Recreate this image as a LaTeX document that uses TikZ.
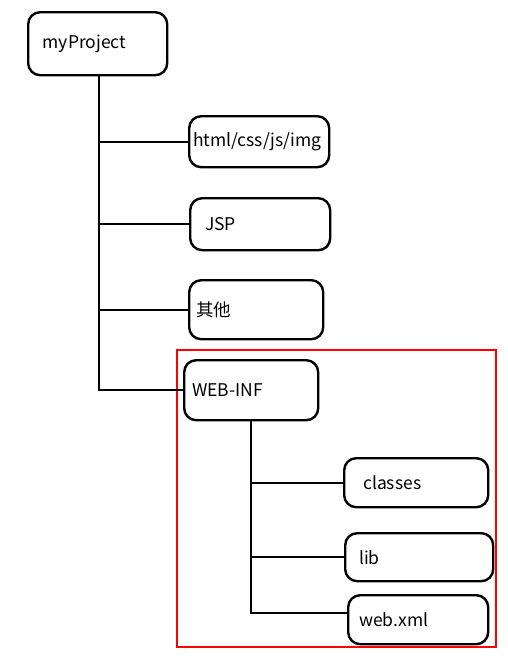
\documentclass[tikz,border=0pt]{standalone}
\usepackage{fontspec}
\setmainfont{Noto Sans CJK SC}
\usetikzlibrary{calc}
\tikzset{ folder_box/.style = {rectangle, rounded corners=12pt, draw, line width=2.4pt, anchor=north west, align=left, font=\fontsize{17.5}{20}\selectfont, inner ysep=0pt} }
\tikzset{ tree_line/.style = {line width=2.4pt} }

\begin{document}
\begin{tikzpicture}[x=1pt,y=-1pt]
            \useasboundingbox (0,0) rectangle (508,662);
            \draw [red, line width=1.6pt] (177,350) rectangle (496,647);
            \node [style=folder_box, minimum width=139pt, minimum height=63pt, text width=110pt, inner xsep=14pt] (proj) at (27,11) {myProject\\[12pt]};
            \node [style=folder_box, minimum width=140pt, minimum height=51pt, text width=132pt, inner xsep=4pt] (html) at (188,115) {html/css/js/img};
            \node [style=folder_box, minimum width=140pt, minimum height=52pt, text width=110pt, inner xsep=15pt] (jsp) at (189,197) {JSP};
            \node [style=folder_box, minimum width=134pt, minimum height=59pt, text width=120pt, inner xsep=6pt] (other) at (188,279) {其他\\[12pt]};
            \node [style=folder_box, minimum width=134pt, minimum height=60pt, text width=118pt, inner xsep=8pt] (webinf) at (183,359) {WEB-INF\\[0pt]};
            \node [style=folder_box, minimum width=144pt, minimum height=49pt, text width=106pt, inner xsep=19pt] (classes) at (343,457) {classes};
            \node [style=folder_box, minimum width=148pt, minimum height=48pt, text width=120pt, inner xsep=14pt] (lib) at (344,532) {lib};
            \node [style=folder_box, minimum width=140pt, minimum height=49pt, text width=118pt, inner xsep=11pt] (webxml) at (347,594) {web.xml};
            \coordinate (trunk) at (99,74);
            \draw [style=tree_line] (trunk |- proj.south) |- (webinf.west);
            \draw [style=tree_line] (trunk |- html.west) -- (html.west);
            \draw [style=tree_line] (trunk |- jsp.west) -- (jsp.west);
            \draw [style=tree_line] (trunk |- other.west) -- (other.west);
            \draw [style=tree_line] (webinf.south) |- ([yshift=7pt]webxml.west);
            \draw [style=tree_line] (webinf.south |- classes.west) -- (classes.west);
            \draw [style=tree_line] (webinf.south |- lib.west) -- (lib.west);
    \end{tikzpicture}
\end{document}
